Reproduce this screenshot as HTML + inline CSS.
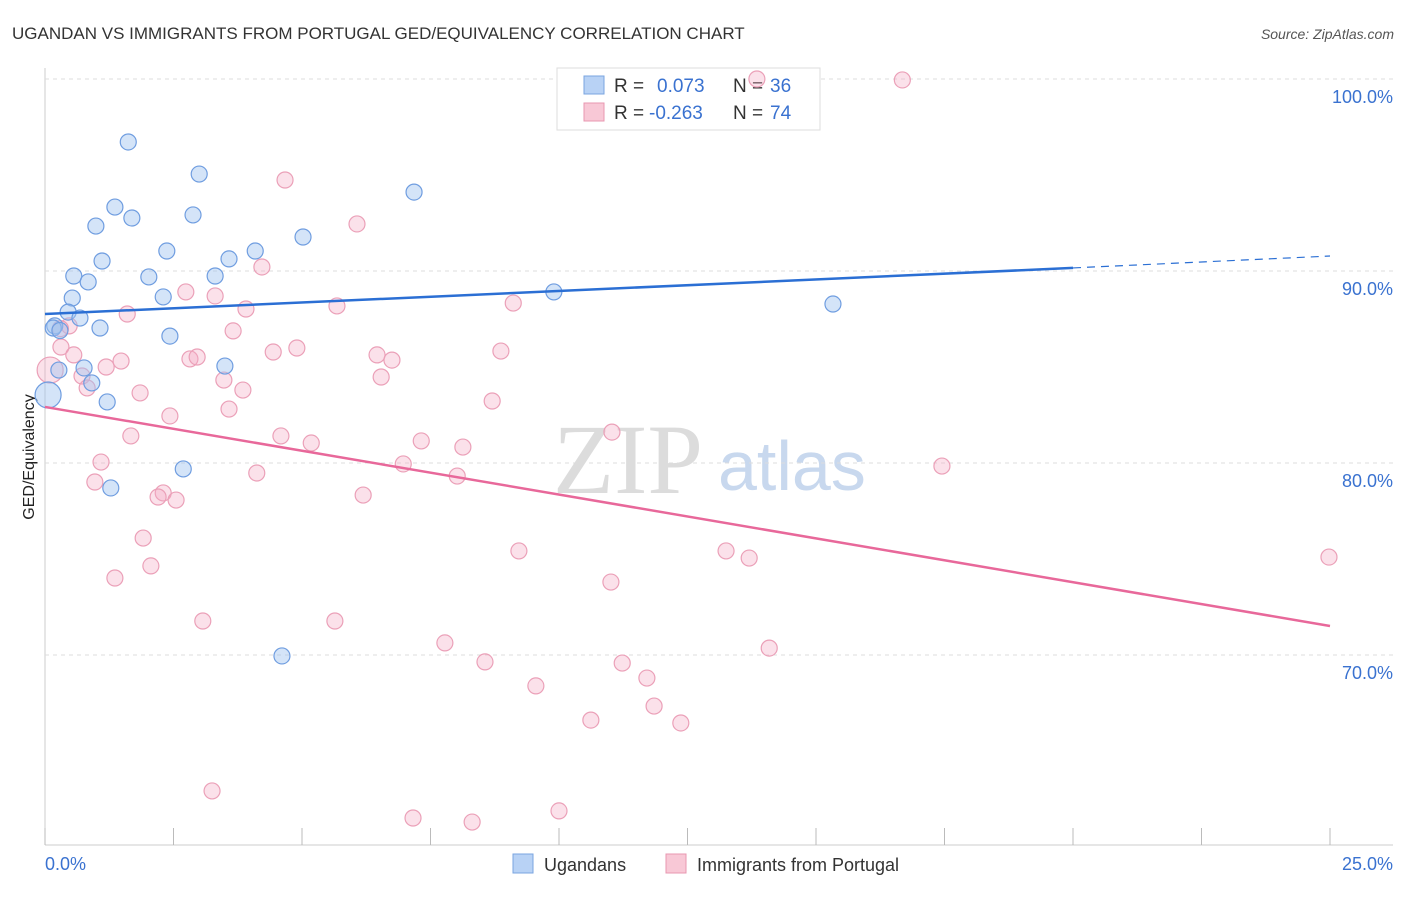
<!DOCTYPE html>
<html><head><meta charset="utf-8"><style>
body{margin:0;background:#fff;font-family:"Liberation Sans",sans-serif;}
</style></head><body>
<svg id="chart" width="1406" height="892" font-family="Liberation Sans, sans-serif">
<text x="12" y="39" font-size="17" fill="#333">UGANDAN VS IMMIGRANTS FROM PORTUGAL GED/EQUIVALENCY CORRELATION CHART</text>
<text x="1394" y="39" font-size="14" fill="#555" text-anchor="end" font-style="italic">Source: ZipAtlas.com</text>
<text transform="translate(34,457) rotate(-90)" font-size="16" fill="#222" text-anchor="middle">GED/Equivalency</text>
<text x="553" y="493" font-size="100" fill="#dcdcdc" style="font-family:'Liberation Serif',serif">ZIP</text>
<text x="718" y="490" font-size="70" fill="#c8d8ee">atlas</text>
<g id="grid"></g>
<g>
<rect x="557" y="68" width="263" height="62" fill="#fff" stroke="#ddd"/>
<rect x="584" y="76" width="20" height="18" fill="#b8d2f5" stroke="#7aa4e0"/>
<text x="614" y="92" font-size="19" fill="#333">R = </text><text x="657" y="92" font-size="19" fill="#3a72d0">0.073</text>
<text x="733" y="92" font-size="19" fill="#333">N = </text><text x="770" y="92" font-size="19" fill="#3a72d0">36</text>
<rect x="584" y="103" width="20" height="18" fill="#f8c8d6" stroke="#e897b0"/>
<text x="614" y="119" font-size="19" fill="#333">R = </text><text x="649" y="119" font-size="19" fill="#3a72d0">-0.263</text>
<text x="733" y="119" font-size="19" fill="#333">N = </text><text x="770" y="119" font-size="19" fill="#3a72d0">74</text>
</g>
<g id="pts"></g><g id="lines"></g>
<g>
<rect x="513" y="854" width="20" height="19" fill="#b8d2f5" stroke="#7aa4e0"/>
<text x="544" y="871" font-size="18" fill="#333">Ugandans</text>
<rect x="666" y="854" width="20" height="19" fill="#f8c8d6" stroke="#e897b0"/>
<text x="697" y="871" font-size="18" fill="#333">Immigrants from Portugal</text>
</g>
</svg>
<script>
const blueX=[1.62,3.00,1.36,1.69,0.99,2.88,7.18,5.02,2.37,4.09,1.11,3.58,0.56,2.02,3.31,0.84,0.53,2.30,9.90,15.33,0.45,0.68,0.19,1.07,2.43,0.76,0.27,3.50,0.91,0.06,1.21,2.69,1.28,4.61,0.16,0.29];
const blueY=[96.72,95.05,93.33,92.76,92.34,92.92,94.11,91.77,91.04,91.04,90.52,90.63,89.74,89.69,89.74,89.43,88.59,88.65,88.91,88.28,87.86,87.55,87.14,87.03,86.61,84.95,84.84,85.05,84.17,83.54,83.18,79.69,78.70,69.95,87.03,86.9];
const pinkX=[13.85,16.68,4.67,6.07,4.22,2.74,3.31,5.68,9.11,3.91,1.60,0.47,3.66,0.31,0.56,4.44,4.90,8.87,6.46,6.75,1.48,2.82,2.96,1.19,0.10,0.72,6.54,3.48,0.82,1.85,3.85,8.70,3.58,2.43,11.03,1.67,4.59,5.18,7.32,8.13,1.09,6.97,4.12,8.02,17.45,0.97,2.30,2.20,2.55,6.19,1.91,9.22,13.25,13.70,24.98,2.06,1.36,11.01,3.07,5.64,7.78,14.09,8.56,11.23,11.71,9.55,11.85,10.62,12.37,3.25,7.16,8.31,10.0,0.3];
const pinkY=[100,99.95,94.74,92.45,90.21,88.91,88.70,88.18,88.33,88.02,87.76,87.14,86.88,86.04,85.63,85.78,85.99,85.83,85.63,85.36,85.31,85.42,85.52,85.00,84.84,84.53,84.48,84.32,83.91,83.65,83.80,83.23,82.81,82.45,81.61,81.41,81.41,81.04,81.15,80.83,80.05,79.95,79.48,79.32,79.84,79.01,78.44,78.23,78.07,78.33,76.09,75.42,75.42,75.05,75.10,74.64,74.01,73.80,71.77,71.77,70.63,70.36,69.64,69.58,68.80,68.39,67.34,66.61,66.46,62.92,61.51,61.30,61.88,87.0];
const blueLargeIdx=[29];
const pinkLargeIdx=[24];
const blueTrend=[[0,87.76],[20,90.16],[25,90.78]];
const pinkTrend=[[0,82.92],[25,71.51]];
const yTicks=[100,90,80,70];
const xTickVals=[0,2.5,5,7.5,10,12.5,15,17.5,20,22.5,25];
const NS='http://www.w3.org/2000/svg';
const sx=v=>45+v/25*1285, sy=v=>79+(100-v)*19.2;
function mk(t,a,p){const e=document.createElementNS(NS,t);for(const k in a)e.setAttribute(k,a[k]);p.appendChild(e);return e;}
const grid=document.getElementById('grid');
mk('line',{x1:45,y1:68,x2:45,y2:845,stroke:'#ccc'},grid);
mk('line',{x1:45,y1:845,x2:1393,y2:845,stroke:'#ccc'},grid);
yTicks.forEach(v=>{
 const l=mk('line',{x1:45,y1:sy(v),x2:1393,y2:sy(v),stroke:'#ddd','stroke-dasharray':'4,4'},grid);
 
 
 const t=mk('text',{x:1393,y:sy(v)+24,'font-size':18,fill:'#3a72d0','text-anchor':'end'},grid);
 t.textContent=v.toFixed(1)+'%';
 
 
});
xTickVals.forEach(v=>{mk('line',{x1:sx(v),y1:828,x2:sx(v),y2:845,stroke:'#bbb'},grid);});
[[0,'0.0%','start',45],[25,'25.0%','end',1393]].forEach(a=>{
 const t=mk('text',{x:a[3],y:870,'font-size':18,fill:'#3a72d0','text-anchor':a[2]},grid);
 t.textContent=a[1];
 
 
});
const pts=document.getElementById('pts');
pinkX.forEach((x,i)=>{const c=mk('circle',{cx:sx(x),cy:sy(pinkY[i]),r:pinkLargeIdx.includes(i)?13:8,fill:'rgba(244,170,195,0.35)',stroke:'#eba0b8','stroke-width':1.2},pts);
 
 });
blueX.forEach((x,i)=>{const c=mk('circle',{cx:sx(x),cy:sy(blueY[i]),r:blueLargeIdx.includes(i)?13:8,fill:'rgba(160,195,240,0.45)',stroke:'#6f9de0','stroke-width':1.2},pts);
 
 });
const ln=document.getElementById('lines');
const b1=mk('line',{x1:sx(blueTrend[0][0]),y1:sy(blueTrend[0][1]),x2:sx(blueTrend[1][0]),y2:sy(blueTrend[1][1]),stroke:'#2b6fd4','stroke-width':2.5},ln);


const b2=mk('line',{x1:sx(blueTrend[1][0]),y1:sy(blueTrend[1][1]),x2:sx(blueTrend[2][0]),y2:sy(blueTrend[2][1]),stroke:'#2b6fd4','stroke-width':1.2,'stroke-dasharray':'8,6'},ln);


const p1=mk('line',{x1:sx(pinkTrend[0][0]),y1:sy(pinkTrend[0][1]),x2:sx(pinkTrend[1][0]),y2:sy(pinkTrend[1][1]),stroke:'#e8689a','stroke-width':2.5},ln);


</script>
</body></html>
